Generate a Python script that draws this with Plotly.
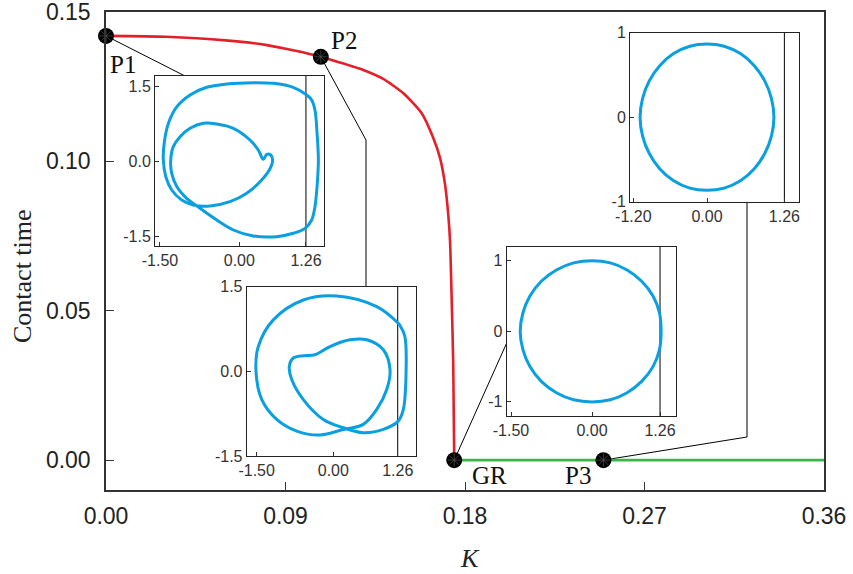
import plotly.graph_objects as go

# ---------------- data ----------------
K_red = [0.0, 0.03, 0.06, 0.08, 0.095, 0.1077, 0.1123, 0.129, 0.139, 0.1491, 0.1583,
         0.1641, 0.1675, 0.17, 0.1716, 0.1725, 0.1733, 0.1741, 0.1746]
T_red = [0.1420, 0.1417, 0.1405, 0.1390, 0.1370, 0.1350, 0.1341, 0.1306, 0.1276, 0.1228,
         0.1161, 0.1078, 0.1011, 0.0922, 0.0822, 0.0733, 0.0544, 0.0323, 0.0]
K_green = [0.1746, 0.36]
T_green = [0.0, 0.0]

pt_names = ["P1", "P2", "GR", "P3"]
pt_K = [0.0, 0.1077, 0.1746, 0.2494]
pt_T = [0.1420, 0.1350, 0.0, 0.0]

x_ticks = [0.0, 0.09, 0.18, 0.27, 0.36]
x_ticktext = ["0.00", "0.09", "0.18", "0.27", "0.36"]
y_ticks = [0.0, 0.05, 0.10, 0.15]
y_ticktext = ["0.00", "0.05", "0.10", "0.15"]

# inset 1 (P1) phase portrait
in1_x = [0.454, 0.359, 0.202, -0.113, -0.427, -0.68, -0.931, -1.12, -1.248, -1.297, -1.278,
         -1.18, -0.994, -0.743, -0.427, -0.113, 0.265, 0.707, 1.02, 1.242, 1.368, 1.43, 1.47,
         1.495, 1.47, 1.43, 1.368, 1.274, 1.02, 0.643, 0.265, -0.238, -0.616, -0.931, -1.18,
         -1.34, -1.42, -1.437, -1.39, -1.278, -1.089, -0.87, -0.554, -0.176, 0.14, 0.392,
         0.567, 0.63, 0.594, 0.518, 0.454]
in1_y = [0.034, 0.22, 0.42, 0.654, 0.74, 0.754, 0.654, 0.486, 0.286, 0.02, -0.246,
         -0.513, -0.746, -0.946, -1.18, -1.38, -1.5, -1.513, -1.446, -1.347, -1.18, -0.914,
         -0.513, 0.02, 0.554, 1.02, 1.22, 1.32, 1.474, 1.554, 1.567, 1.54, 1.474, 1.32, 1.086,
         0.754, 0.354, 0.02, -0.313, -0.58, -0.78, -0.88, -0.9, -0.814, -0.646, -0.414,
         -0.18, 0.02, 0.12, 0.134, 0.034]

# inset 2 (P2) phase portrait
in2_x = [1.27, 0.85, 0.066, -0.587, -1.174, -1.468, -1.513, -1.40, -1.108, -0.716, -0.26,
         0.196, 0.587, 0.85, 1.045, 1.11, 0.978, 0.654, 0.327, -0.065, -0.358, -0.587,
         -0.783, -0.861, -0.814, -0.587, -0.196, 0.196, 0.587, 0.978, 1.27, 1.37, 1.423,
         1.40, 1.30, 1.27]
in2_y = [0.853, 1.146, 1.335, 1.264, 0.912, 0.44, 0.0, -0.5, -0.85, -1.058, -1.128,
         -1.03, -0.94, -0.675, -0.323, 0.03, 0.383, 0.559, 0.559, 0.44, 0.295, 0.277,
         0.236, 0.088, -0.146, -0.5, -0.852, -1.0, -1.087, -1.028, -0.882, -0.675, -0.03,
         0.617, 0.82, 0.853]

# inset 3 (GR) phase portrait
in3_x = [1.28, 1.25, 1.13, 0.92, 0.65, 0.34, 0.0, -0.34, -0.66, -0.94, -1.15, -1.28,
         -1.33, -1.28, -1.15, -0.94, -0.66, -0.34, 0.0, 0.34, 0.65, 0.92, 1.13, 1.25, 1.28]
in3_y = [0.0, 0.26, 0.5, 0.71, 0.87, 0.97, 1.0, 0.97, 0.87, 0.71, 0.5, 0.26,
         0.0, -0.26, -0.5, -0.71, -0.87, -0.97, -1.0, -0.97, -0.87, -0.71, -0.5, -0.26, 0.0]

# inset 4 (P3) phase portrait
in4_x = [1.09, 1.05, 0.94, 0.77, 0.55, 0.28, 0.0, -0.28, -0.55, -0.77, -0.94, -1.05,
         -1.09, -1.05, -0.94, -0.77, -0.55, -0.28, 0.0, 0.28, 0.55, 0.77, 0.94, 1.05, 1.09]
in4_y = [0.0, 0.22, 0.43, 0.61, 0.75, 0.84, 0.865, 0.84, 0.75, 0.61, 0.43, 0.22,
         0.0, -0.22, -0.43, -0.61, -0.75, -0.84, -0.865, -0.84, -0.75, -0.61, -0.43, -0.22, 0.0]

wall = 1.26

# ---------------- layout constants ----------------
XR = [0.0, 0.36]
YR = [-0.01, 0.15]
TOP = 12
H = 490.0 - TOP
W = 718.0
insets = [
    dict(px=[155, 324.3], py=[76, 246], xr=[-1.594, 1.607], yr=[-1.7, 1.7],
         xt=[-1.5, 0.0, 1.26], xtt=["-1.50", "0.00", "1.26"],
         yt=[-1.5, 0.0, 1.5], ytt=["-1.5", "0.0", "1.5"], x=in1_x, y=in1_y),
    dict(px=[246.7, 416], py=[286.7, 456], xr=[-1.695, 1.618], yr=[-1.5, 1.5],
         xt=[-1.5, 0.0, 1.26], xtt=["-1.50", "0.00", "1.26"],
         yt=[-1.5, 0.0, 1.5], ytt=["-1.5", "0.0", "1.5"], x=in2_x, y=in2_y),
    dict(px=[506.7, 676], py=[246.7, 416], xr=[-1.58, 1.556], yr=[-1.2, 1.2],
         xt=[-1.5, 0.0, 1.26], xtt=["-1.50", "0.00", "1.26"],
         yt=[-1.0, 0.0, 1.0], ytt=["-1", "0", "1"], x=in3_x, y=in3_y),
    dict(px=[630, 799], py=[32.7, 201.7], xr=[-1.254, 1.498], yr=[-1.0, 1.0],
         xt=[-1.2, 0.0, 1.26], xtt=["-1.20", "0.00", "1.26"],
         yt=[-1.0, 0.0, 1.0], ytt=["-1", "0", "1"], x=in4_x, y=in4_y),
]


def xp(px):
    return (px - 106) / W


def yp(py):
    return (490 - py) / H


for ins in insets:
    ins["xd"] = [xp(ins["px"][0]), xp(ins["px"][1])]
    ins["yd"] = [yp(ins["py"][1]), yp(ins["py"][0])]


def p2d(a, b):
    return XR[0] + a * (XR[1] - XR[0]), YR[0] + b * (YR[1] - YR[0])


fig = go.Figure()

# connectors
conn = [
    [(pt_K[0], pt_T[0]), p2d(xp(185), insets[0]["yd"][1])],
    [(pt_K[1], pt_T[1]), p2d(xp(366), yp(140)), p2d(xp(366), insets[1]["yd"][1])],
    [(pt_K[2], pt_T[2]), p2d(insets[2]["xd"][0], yp(343))],
    [(pt_K[3], pt_T[3]), p2d(xp(747), yp(437)), p2d(xp(747), insets[3]["yd"][0])],
]
for c in conn:
    fig.add_trace(go.Scatter(x=[p[0] for p in c], y=[p[1] for p in c], mode="lines",
                             line=dict(color="black", width=1), showlegend=False,
                             hoverinfo="skip", cliponaxis=False))

fig.add_trace(go.Scatter(x=K_red, y=T_red, mode="lines",
                         line=dict(color="#E3202A", width=2.6, shape="spline", smoothing=0.6),
                         showlegend=False))
fig.add_trace(go.Scatter(x=K_green, y=T_green, mode="lines",
                         line=dict(color="#3DB54A", width=2.6), showlegend=False))
fig.add_trace(go.Scatter(x=pt_K, y=pt_T, mode="markers",
                         marker=dict(color="black", size=16, line=dict(width=0)),
                         showlegend=False, cliponaxis=False))
fig.add_trace(go.Scatter(x=pt_K, y=pt_T, mode="markers",
                         marker=dict(color="#555", size=11, symbol="asterisk-open",
                                     line=dict(width=0.7, color="#666")),
                         showlegend=False, cliponaxis=False))

layout = dict(
    width=853, height=574,
    margin=dict(l=106, r=29, t=TOP, b=84, autoexpand=False),
    paper_bgcolor="white", plot_bgcolor="white",
    showlegend=False,
    font=dict(family="Liberation Sans, Arial, sans-serif", color="#222"),
    xaxis=dict(domain=[0, 1], range=XR, tickvals=x_ticks, ticktext=x_ticktext,
               ticks="inside", ticklen=8, tickwidth=1.3, tickcolor="#333",
               showline=True, mirror=True, linecolor="#333", linewidth=1.5,
               showgrid=False, zeroline=False, tickfont=dict(size=23),
               ticklabelstandoff=5, automargin=False, ticklabeloverflow="allow"),
    yaxis=dict(domain=[0, 1], range=YR, tickvals=y_ticks, ticktext=y_ticktext,
               ticks="inside", ticklen=8, tickwidth=1.3, tickcolor="#333",
               showline=True, mirror=True, linecolor="#333", linewidth=1.5,
               showgrid=False, zeroline=False, tickfont=dict(size=23),
               ticklabelstandoff=9, automargin=False, ticklabeloverflow="allow"),
)

for i, ins in enumerate(insets):
    n = i + 2
    xa, ya = f"x{n}", f"y{n}"
    layout[f"xaxis{n}"] = dict(domain=ins["xd"], range=ins["xr"], anchor=ya,
                               tickvals=ins["xt"], ticktext=ins["xtt"],
                               ticks="inside", ticklen=4, tickcolor="#333",
                               showline=True, mirror=True, linecolor="#222", linewidth=1,
                               showgrid=False, zeroline=False, automargin=False,
                               ticklabeloverflow="allow",
                               tickfont=dict(size=16, color="#333"))
    layout[f"yaxis{n}"] = dict(domain=ins["yd"], range=ins["yr"], anchor=xa,
                               tickvals=ins["yt"], ticktext=ins["ytt"],
                               ticks="inside", ticklen=4, tickcolor="#333",
                               showline=True, mirror=True, linecolor="#222", linewidth=1,
                               showgrid=False, zeroline=False, automargin=False,
                               ticklabeloverflow="allow",
                               tickfont=dict(size=16, color="#333"))
    fig.add_trace(go.Scatter(x=[wall, wall], y=ins["yr"], mode="lines", xaxis=xa, yaxis=ya,
                             line=dict(color="black", width=1), showlegend=False))
    fig.add_trace(go.Scatter(x=ins["x"], y=ins["y"], mode="lines", xaxis=xa, yaxis=ya,
                             line=dict(color="#0A9FE0", width=3, shape="spline", smoothing=1.0),
                             showlegend=False))

fig.update_layout(**layout)

# point labels
shifts = [(17, -29), (23, 16), (35, -15), (-25, -15)]
for name, k, t, (dx, dy) in zip(pt_names, pt_K, pt_T, shifts):
    fig.add_annotation(x=k, y=t, xref="x", yref="y", text=name, showarrow=False,
                       xanchor="center", yanchor="middle",
                       xshift=dx, yshift=dy,
                       font=dict(family="Liberation Serif, Times New Roman, serif",
                                 size=25, color="#111"))

# axis titles
fig.add_annotation(x=xp(22), y=yp(276), xref="paper", yref="paper",
                   xanchor="center", yanchor="middle",
                   text="Contact time", textangle=-90, showarrow=False,
                   font=dict(family="Liberation Serif, Times New Roman, serif", size=26,
                             color="#222"))
fig.add_annotation(x=xp(470), y=yp(558), xref="paper", yref="paper",
                   xanchor="center", yanchor="middle",
                   text="<i>K</i>", showarrow=False,
                   font=dict(family="Liberation Serif, Times New Roman, serif", size=26,
                             color="#222"))

fig.write_html("out.html")
